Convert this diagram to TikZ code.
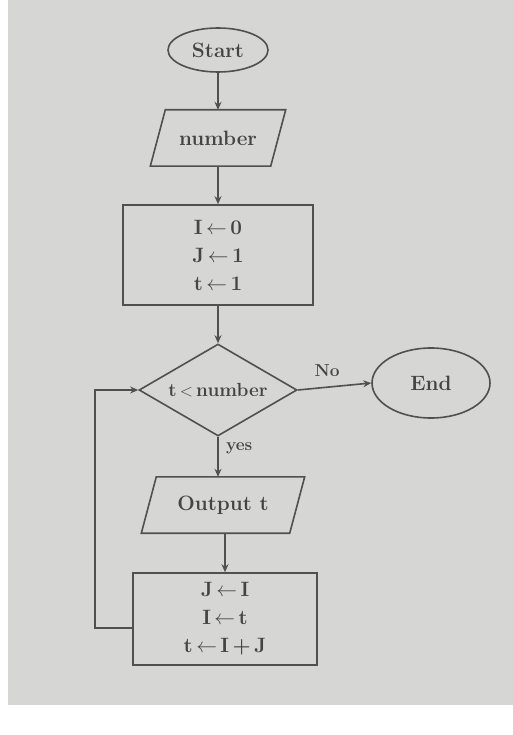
\documentclass[tikz,border=0pt]{standalone}
\usetikzlibrary{shapes.geometric,arrows.meta,calc}
\definecolor{paper}{HTML}{D6D6D4}
\definecolor{ink}{HTML}{505050}
\definecolor{txt}{HTML}{444444}
\begin{document}
\begin{tikzpicture}[x=1pt,y=-1pt,
  every node/.style={text=txt,font=\fontsize{20.74}{28}\selectfont\bfseries},
  term/.style={draw=ink,line width=1.6pt,ellipse,minimum width=100pt,minimum height=44pt,inner sep=0pt},
  iobody/.style={rectangle,inner sep=0pt,minimum height=56pt},
  proc/.style={draw=ink,line width=1.6pt,rectangle,align=center,inner sep=0pt},
  decide/.style={draw=ink,line width=1.6pt,diamond,aspect=1.7,minimum width=158pt,minimum height=92pt,inner sep=0pt},
  conn/.style={draw=ink,line width=1.6pt,-{Stealth[length=8pt,width=7pt]}},
  slant/.style={draw=ink,line width=1.6pt,line join=miter},
  lbl/.style={text=txt,font=\fontsize{17.28}{20}\selectfont\bfseries}
]
\fill[white] (0,0) rectangle (513,735);
\fill[paper] (8,0) rectangle (513,705);
\useasboundingbox (0,0) rectangle (513,735);

\node[term] (start) at (218,50) {Start};
\node[iobody,minimum width=120pt] (num) at (218,138) {number};
\draw[slant] ($(num.north west)+(7.5,0)$) -- ($(num.north east)+(7.5,0)$)
  -- ($(num.south east)+(-7.5,0)$) -- ($(num.south west)+(-7.5,0)$) -- cycle;
\node[proc,minimum width=190pt,minimum height=100pt] (init) at (218,255)
  {I\,$\leftarrow$\,0\\ J\,$\leftarrow$\,1\\ t\,$\leftarrow$\,1};
\node[decide] (cond) at (218,390) {};
\node[font=\fontsize{19}{20}\selectfont\bfseries] (condtext) at (cond.center) {t\,$<$\,number};
\node[term,minimum width=118pt,minimum height=70pt] (end) at (431,383) {End};
\node[iobody,minimum width=148pt] (out) at (223,505) {Output t};
\draw[slant] ($(out.north west)+(7.5,0)$) -- ($(out.north east)+(7.5,0)$)
  -- ($(out.south east)+(-7.5,0)$) -- ($(out.south west)+(-7.5,0)$) -- cycle;
\node[proc,minimum width=184pt,minimum height=92pt] (upd) at (225,619)
  {J\,$\leftarrow$\,I\\ I\,$\leftarrow$\,t\\ t\,$\leftarrow$\,I\,+\,J};

\coordinate (lb) at (95,628);
\coordinate (lt) at (95,390);

\draw[conn] (start) -- (num);
\draw[conn] (num) -- (init);
\draw[conn] (init) -- (cond);
\draw[conn] (cond.east) -- node[lbl,above,pos=0.4,yshift=6pt] {No} (end.west);
\draw[conn] (cond.south) -- node[lbl,right,pos=0.3,xshift=4pt] {yes} (cond.south |- out.north);
\draw[conn] (out.south -| upd.north) -- (upd.north);
\draw[conn] (upd.west |- lb) -- (lb) -- (lt) -- (cond.west);
\end{tikzpicture}
\end{document}
